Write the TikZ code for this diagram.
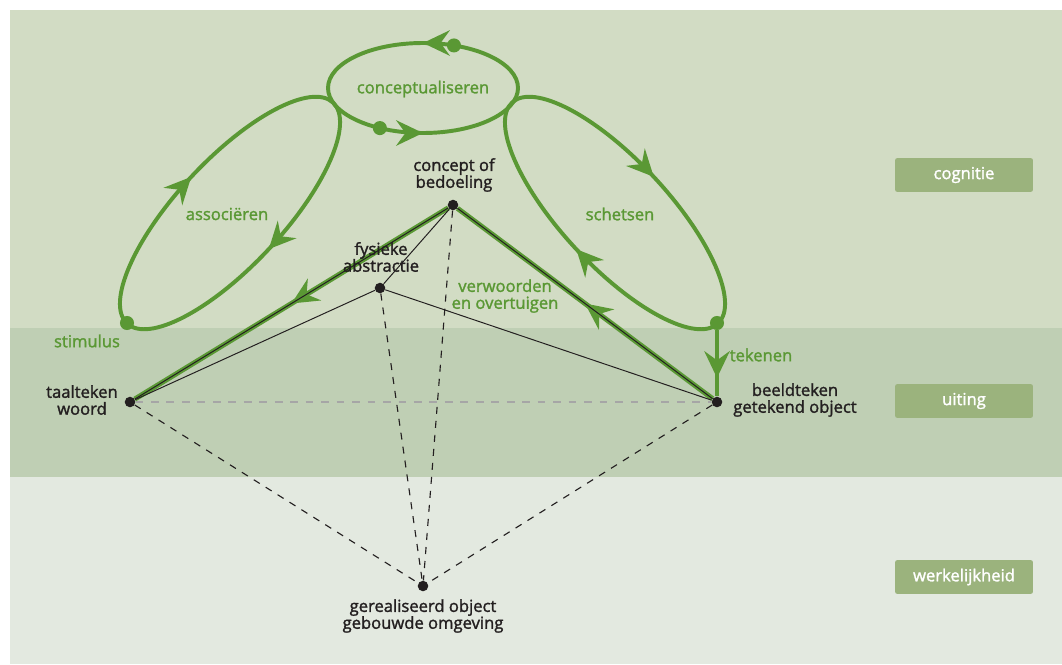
\documentclass[tikz,border=0pt]{standalone}
\usepackage{fontspec}
\setsansfont{Open Sans}[FakeBold=1.6]
\usetikzlibrary{arrows.meta, decorations.markings, calc}

\definecolor{leaf}{RGB}{90,152,52}
\definecolor{bandtop}{RGB}{210,220,196}
\definecolor{bandmid}{RGB}{191,207,180}
\definecolor{bandlow}{RGB}{227,233,224}
\definecolor{tagfill}{RGB}{155,179,125}
\definecolor{ink}{RGB}{35,31,32}

\tikzset{hd/.tip={Stealth[length=19pt, width=18pt, inset=6.5pt]}}

\begin{document}
\begin{tikzpicture}[
    x=0.025cm, y=0.025cm,
    font=\sffamily\fontsize{11.8}{12}\selectfont,
    dot/.style={circle, fill=ink, inner sep=0pt, minimum size=7.5pt},
    gdot/.style={circle, fill=leaf, inner sep=0pt, minimum size=10pt},
    term/.style={text=ink, align=center, inner sep=1pt},
    act/.style={term, text=leaf},
    tag/.style={fill=tagfill, text=white, rounded corners=1.5pt,
                minimum width=98pt, minimum height=24pt, inner sep=0pt},
    ring/.style={draw=leaf, line width=2.8pt},
    route/.style={draw=leaf, line width=3.6pt},
    wire/.style={draw=ink, line width=0.7pt},
    dashline/.style={draw=ink, line width=0.8pt, dash pattern=on 5pt off 5pt},
    greydash/.style={draw=black!35, line width=0.8pt, dash pattern=on 5.5pt off 5.5pt},
    arrowsat/.style 2 args={postaction={decorate}, decoration={markings,
        mark=at position #1 with {\arrow{hd}}, mark=at position #2 with {\arrow{hd}}}},
    arrowsback/.style 2 args={postaction={decorate}, decoration={markings,
        mark=at position #1 with {\arrowreversed{hd}}, mark=at position #2 with {\arrowreversed{hd}}}},
    midarrow/.style={postaction={decorate}, decoration={markings,
        mark=at position #1 with {\arrow{hd}}}},
  ]
  \useasboundingbox (0,0) rectangle (1062,-664);

  % ---------------- Bands ----------------
  \fill[bandtop] (10,-10) rectangle (1062,-328);
  \fill[bandmid] (10,-328) rectangle (1062,-477);
  \fill[bandlow] (10,-477) rectangle (1062,-664);

  \node[tag] (cog)  at (964,-175) {cognitie};
  \node[tag] (uit)  at (964,-401) {uiting};
  \node[tag] (werk) at (964,-577) {werkelijkheid};

  % ---------------- Points ----------------
  \node[dot] (concept) at (453,-205) {};
  \node[dot] (fysiek)  at (380,-288) {};
  \node[dot] (taal)    at (130,-402) {};
  \node[dot] (beeld)   at (717,-402) {};
  \node[dot] (real)    at (423,-586) {};

  % ---------------- Lines between points ----------------
  \draw[greydash] (taal) -- (beeld);
  \foreach \a in {concept, fysiek, taal, beeld} \draw[dashline] (\a) -- (real);
  \draw[route, midarrow=0.5] (concept) -- (taal);
  \draw[route, midarrow=0.5] (beeld) -- (concept);
  \foreach \a in {concept, taal, beeld} \draw[wire] (fysiek) -- (\a);
  \draw[wire] (concept) -- (taal);
  \draw[wire] (concept) -- (beeld);

  % ---------------- Loops ----------------
  \draw[ring, arrowsat={0.25}{0.75}] (423,-88) ellipse [x radius=95, y radius=45];
  \draw[ring, arrowsback={0.25}{0.75}, rotate around={47:(230,-213)}]
       (230,-213) ellipse [x radius=151, y radius=53];
  \draw[ring, arrowsback={0.25}{0.75}, rotate around={-47:(615,-213)}]
       (615,-213) ellipse [x radius=151, y radius=53];

  \node[gdot] (ctop) at ($(423,-88)+(71:95 and 45)$) {};
  \node[gdot] (cbot) at ($(423,-88)+(243:95 and 45)$) {};
  \node[gdot] (stim) at (127,-323) {};
  \node[gdot] (skend) at (717,-323) {};

  \draw[route, line width=2.8pt, midarrow=0.72] (skend) -- (beeld);

  % ---------------- Texts ----------------
  \node[act] (conclbl) at (423,-89)  {conceptualiseren};
  \node[act] (asslbl)  at (227,-214) {associëren};
  \node[act] (schlbl)  at (620,-214) {schetsen};
  \node[act] (stimlbl) at (87,-341)  {stimulus};
  \node[act] (teklbl)  at (761,-355) {tekenen};
  \node[act] (verlbl)  at (505,-296) {verwoorden\\en overtuigen};

  \node[term] (conceptlbl) at (454,-175) {concept of\\bedoeling};
  \node[term] (fysieklbl)  at (381,-257) {fysieke\\abstractie};
  \node[term] (taallbl)    at (82,-400)  {taalteken\\woord};
  \node[term] (beeldlbl)   at (795,-400) {beeldteken\\getekend object};
  \node[term] (reallbl)    at (423,-616) {gerealiseerd object\\gebouwde omgeving};
\end{tikzpicture}
\end{document}
